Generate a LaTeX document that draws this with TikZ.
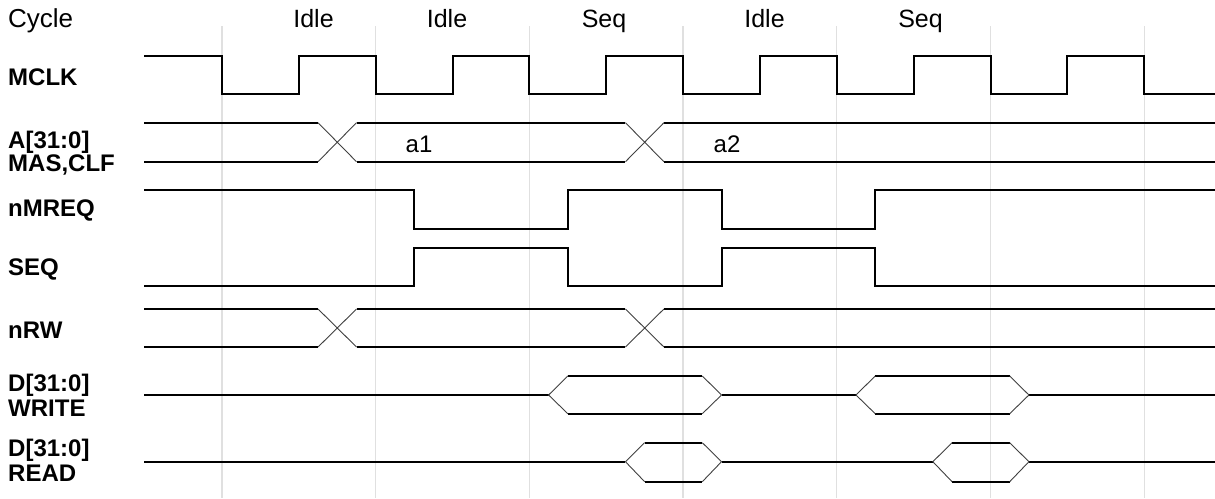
\documentclass[tikz,border=0pt]{standalone}
\usepackage{fontspec}
\setmainfont{Liberation Sans}
\begin{document}
\begin{tikzpicture}[x=1pt,y=-1pt,
  gridline/.style={draw=black!12,line width=1.3pt},
  sig/.style={draw=black,line width=2pt,line cap=butt,line join=miter},
  slope/.style={draw=black!75,line width=0.9pt},
  siglabel/.style={anchor=base west,inner sep=0pt,font=\fontsize{24}{24}\selectfont\bfseries},
  cyclabel/.style={anchor=base,inner sep=0pt,font=\fontsize{25}{25}\selectfont},
  buslabel/.style={anchor=base,inner sep=0pt,font=\fontsize{24}{24}\selectfont}]
\useasboundingbox (0,0) rectangle (1215,498);
% grid
\foreach \g in {222,375.7,529.4,683.1,836.8,990.5,1144.2}
  \draw[gridline] (\g,26) -- (\g,498);
% top labels
\node[anchor=base west,inner sep=0pt,font=\fontsize{26}{26}\selectfont] (cyc) at (8,27.5) {Cycle};
\node[cyclabel] (c1) at (313.5,27.5) {Idle};
\node[cyclabel] (c2) at (447,27.5) {Idle};
\node[cyclabel] (c3) at (604,27.5) {Seq};
\node[cyclabel] (c4) at (764.5,27.5) {Idle};
\node[cyclabel] (c5) at (920.5,27.5) {Seq};
% signal labels
\node[siglabel] (lmclk) at (8,85) {MCLK};
\node[siglabel] (la1) at (8,148) {A[31:0]};
\node[siglabel] (la2) at (8,171) {MAS,CLF};
\node[siglabel] (lmreq) at (8,216) {nMREQ};
\node[siglabel] (lseq) at (8,275) {SEQ};
\node[siglabel] (lrw) at (8,338) {nRW};
\node[siglabel] (ldw1) at (8,391.5) {D[31:0]};
\node[siglabel] (ldw2) at (8,416.5) {WRITE};
\node[siglabel] (ldr1) at (8,456.5) {D[31:0]};
\node[siglabel] (ldr2) at (8,481.5) {READ};
% MCLK
\draw[sig] (144,56) -- (222,56) -- (222,94) -- (298.85,94) -- (298.85,56)
  -- (375.7,56) -- (375.7,94) -- (452.55,94) -- (452.55,56)
  -- (529.4,56) -- (529.4,94) -- (606.25,94) -- (606.25,56)
  -- (683.1,56) -- (683.1,94) -- (759.95,94) -- (759.95,56)
  -- (836.8,56) -- (836.8,94) -- (913.65,94) -- (913.65,56)
  -- (990.5,56) -- (990.5,94) -- (1067.35,94) -- (1067.35,56)
  -- (1144.2,56) -- (1144.2,94) -- (1215,94);
% A bus
\draw[sig] (144,122.7) -- (318.05,122.7) (356.5,122.7) -- (625.45,122.7) (663.9,122.7) -- (1215,122.7);
\draw[sig] (144,161.7) -- (318.05,161.7) (356.5,161.7) -- (625.45,161.7) (663.9,161.7) -- (1215,161.7);
\draw[slope] (318.05,122.7) -- (356.5,161.7) (318.05,161.7) -- (356.5,122.7);
\draw[slope] (625.45,122.7) -- (663.9,161.7) (625.45,161.7) -- (663.9,122.7);
\node[buslabel] (a1) at (419,152) {a1};
\node[buslabel] (a2) at (727,152) {a2};
% nMREQ
\draw[sig] (144,190) -- (414.1,190) -- (414.1,228.7) -- (567.8,228.7) -- (567.8,190)
  -- (721.5,190) -- (721.5,228.7) -- (875.2,228.7) -- (875.2,190) -- (1215,190);
% SEQ
\draw[sig] (144,285.7) -- (414.1,285.7) -- (414.1,247.7) -- (567.8,247.7) -- (567.8,285.7)
  -- (721.5,285.7) -- (721.5,247.7) -- (875.2,247.7) -- (875.2,285.7) -- (1215,285.7);
% nRW
\draw[sig] (144,309) -- (318.05,309) (356.5,309) -- (625.45,309) (663.9,309) -- (1215,309);
\draw[sig] (144,347) -- (318.05,347) (356.5,347) -- (625.45,347) (663.9,347) -- (1215,347);
\draw[slope] (318.05,309) -- (356.5,347) (318.05,347) -- (356.5,309);
\draw[slope] (625.45,309) -- (663.9,347) (625.45,347) -- (663.9,309);
% D WRITE
\draw[sig] (144,395) -- (548.6,395) (721.5,395) -- (856,395) (1028.9,395) -- (1215,395);
\draw[sig] (567.8,376) -- (702.3,376) (567.8,413.7) -- (702.3,413.7);
\draw[sig] (875.2,376) -- (1009.7,376) (875.2,413.7) -- (1009.7,413.7);
\draw[slope] (567.8,376) -- (548.6,395) -- (567.8,413.7) (702.3,376) -- (721.5,395) -- (702.3,413.7);
\draw[slope] (875.2,376) -- (856,395) -- (875.2,413.7) (1009.7,376) -- (1028.9,395) -- (1009.7,413.7);
% D READ
\draw[sig] (144,461.7) -- (625.45,461.7) (721.5,461.7) -- (932.85,461.7) (1028.9,461.7) -- (1215,461.7);
\draw[sig] (644.65,442.7) -- (702.3,442.7) (644.65,481.7) -- (702.3,481.7);
\draw[sig] (952.05,442.7) -- (1009.7,442.7) (952.05,481.7) -- (1009.7,481.7);
\draw[slope] (644.65,442.7) -- (625.45,461.7) -- (644.65,481.7) (702.3,442.7) -- (721.5,461.7) -- (702.3,481.7);
\draw[slope] (952.05,442.7) -- (932.85,461.7) -- (952.05,481.7) (1009.7,442.7) -- (1028.9,461.7) -- (1009.7,481.7);
\end{tikzpicture}
\end{document}
